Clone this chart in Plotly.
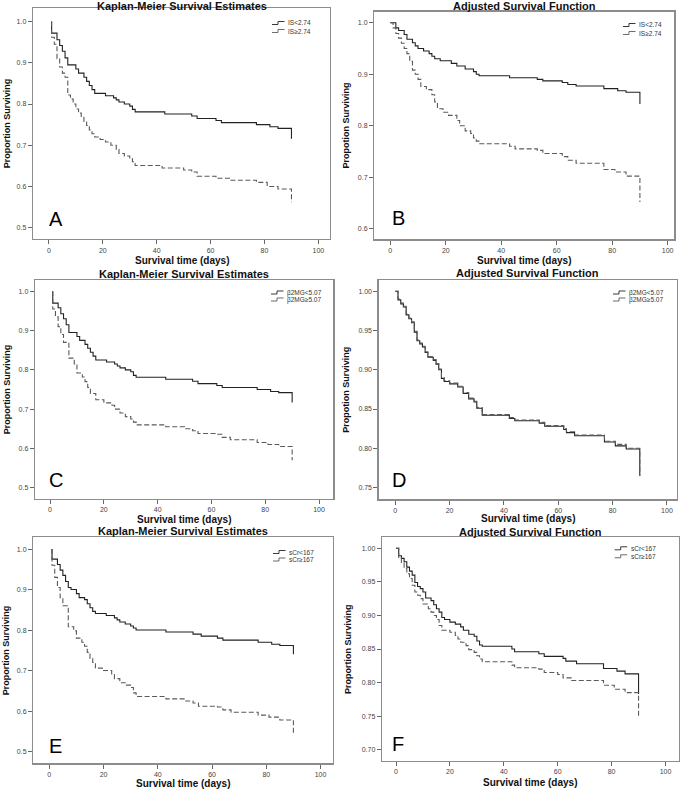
import plotly.graph_objects as go

W, H = 685, 789

# ---------------- data ----------------
# Panel A: IS
a_lo_t = [1, 1, 3, 4, 5, 6, 7, 10, 11, 13, 14, 15, 16, 17, 21, 24, 25, 26, 28, 30, 31, 32, 43, 53, 55, 62, 64, 77, 82, 85, 90]
a_lo_s = [1.0, .972, .956, .942, .928, .912, .895, .885, .875, .865, .855, .845, .835, .826, .82, .815, .81, .805, .80, .795, .787, .781, .776, .771, .765, .76, .755, .75, .745, .741, .716]
a_hi_t = [1, 1, 2, 3, 4, 5, 6, 7, 8, 9, 10, 11, 12, 13, 14, 15, 16, 17, 19, 21, 23, 25, 26, 28, 30, 31, 32, 42, 50, 53, 55, 62, 67, 77, 81, 85, 90]
a_hi_s = [1.0, .962, .945, .91, .89, .875, .865, .822, .812, .80, .788, .778, .768, .758, .748, .737, .728, .72, .714, .708, .70, .69, .68, .674, .668, .66, .651, .645, .64, .635, .625, .62, .615, .61, .60, .594, .562]

# Panel B: IS adjusted
b_lo_t = [0, 2, 3, 5, 6, 8, 9, 10, 12, 14, 15, 16, 18, 22, 24, 27, 30, 31, 32, 43, 53, 55, 62, 64, 67, 77, 82, 85, 90]
b_lo_s = [1.0, .99, .985, .977, .968, .961, .955, .95, .945, .94, .935, .93, .926, .921, .916, .91, .905, .90, .897, .893, .89, .887, .884, .88, .877, .872, .868, .865, .842]
b_hi_t = [0, 1, 2, 3, 4, 5, 6, 7, 8, 9, 10, 11, 13, 15, 16, 17, 19, 21, 24, 25, 27, 29, 30, 31, 32, 43, 45, 53, 55, 62, 64, 67, 77, 81, 85, 90]
b_hi_s = [1.0, .99, .979, .97, .96, .95, .94, .925, .908, .90, .89, .876, .87, .86, .846, .833, .826, .82, .81, .80, .79, .785, .776, .77, .765, .76, .755, .752, .746, .74, .733, .727, .715, .71, .702, .652]

# Panel C: beta2MG
c_lo_t = [1, 1, 3, 4, 5, 6, 7, 10, 11, 13, 14, 15, 16, 17, 21, 24, 25, 26, 28, 30, 31, 32, 43, 53, 55, 62, 64, 77, 82, 85, 90]
c_lo_s = [1.0, .97, .958, .943, .93, .915, .895, .885, .875, .865, .855, .845, .835, .825, .82, .815, .81, .805, .80, .795, .786, .781, .776, .771, .765, .76, .755, .75, .745, .742, .717]
c_hi_t = [1, 1, 2, 3, 4, 5, 7, 9, 10, 12, 13, 14, 15, 17, 20, 23, 24, 26, 28, 30, 31, 32, 43, 50, 53, 55, 62, 64, 67, 77, 81, 85, 90]
c_hi_s = [1.0, .955, .935, .91, .89, .87, .83, .815, .792, .782, .77, .755, .74, .724, .716, .71, .70, .69, .681, .675, .667, .66, .655, .65, .645, .638, .636, .628, .622, .615, .61, .605, .57]

# Panel D: beta2MG adjusted
d_lo_t = [0, 1, 2, 3, 4, 5, 6, 7, 8, 9, 10, 11, 12, 14, 15, 16, 17, 18, 20, 23, 25, 27, 29, 30, 32, 42, 44, 53, 55, 62, 63, 66, 77, 81, 85, 90]
d_lo_s = [1.0, .989, .984, .98, .97, .965, .96, .948, .937, .933, .929, .922, .916, .912, .907, .90, .889, .885, .882, .878, .87, .863, .859, .851, .842, .838, .835, .832, .828, .824, .82, .816, .808, .803, .799, .765]
d_hi_t = [0, 1, 2, 3, 4, 5, 6, 7, 8, 9, 10, 11, 12, 14, 15, 16, 17, 18, 20, 23, 25, 27, 29, 30, 32, 42, 44, 53, 55, 62, 63, 66, 77, 81, 85, 90]
d_hi_s = [1.0, .99, .985, .981, .971, .966, .961, .949, .938, .934, .93, .923, .917, .913, .908, .901, .89, .886, .883, .879, .871, .864, .86, .852, .843, .839, .836, .833, .829, .825, .821, .817, .809, .805, .80, .765]

# Panel E: sCr
e_lo_t = [1, 1, 3, 4, 5, 6, 7, 8, 10, 11, 13, 14, 15, 16, 17, 21, 24, 25, 26, 28, 30, 31, 32, 43, 53, 56, 62, 64, 77, 82, 85, 90]
e_lo_s = [1.0, .975, .962, .948, .935, .92, .905, .90, .89, .88, .875, .865, .855, .846, .841, .836, .83, .825, .82, .815, .81, .805, .80, .795, .79, .785, .78, .775, .77, .765, .762, .74]
e_hi_t = [1, 1, 2, 3, 4, 5, 7, 9, 10, 12, 13, 14, 15, 16, 17, 20, 23, 24, 26, 28, 30, 31, 32, 43, 50, 53, 55, 62, 64, 67, 77, 81, 85, 90]
e_hi_s = [1.0, .96, .93, .905, .88, .86, .808, .798, .78, .77, .76, .745, .73, .72, .706, .70, .69, .68, .67, .664, .658, .645, .636, .63, .625, .62, .612, .61, .603, .597, .59, .585, .578, .54]

# Panel F: sCr adjusted
f_lo_t = [0, 1, 2, 3, 4, 5, 6, 7, 8, 9, 10, 11, 13, 14, 15, 16, 17, 18, 20, 22, 24, 25, 27, 29, 30, 31, 32, 43, 44, 53, 55, 62, 63, 67, 77, 82, 85, 90]
f_lo_s = [1.0, .989, .985, .98, .972, .966, .96, .949, .943, .94, .935, .926, .922, .916, .91, .905, .897, .894, .89, .887, .883, .878, .872, .869, .862, .856, .854, .85, .846, .843, .839, .836, .832, .828, .821, .817, .813, .783]
f_hi_t = [0, 1, 2, 3, 4, 5, 6, 7, 8, 9, 10, 12, 13, 14, 15, 16, 17, 20, 22, 23, 24, 26, 27, 29, 30, 31, 32, 43, 44, 53, 55, 60, 62, 65, 77, 81, 85, 90]
f_hi_s = [1.0, .985, .978, .97, .962, .955, .945, .935, .93, .925, .917, .91, .905, .90, .894, .885, .878, .875, .87, .865, .86, .855, .849, .845, .84, .835, .831, .826, .822, .82, .815, .812, .807, .803, .796, .79, .785, .75]

x_ticks = [0, 20, 40, 60, 80, 100]
y_ticks_km = [0.5, 0.6, 0.7, 0.8, 0.9, 1.0]
y_ticks_b = [0.6, 0.7, 0.8, 0.9, 1.0]
y_ticks_d = [0.75, 0.80, 0.85, 0.90, 0.95, 1.00]
y_ticks_f = [0.70, 0.75, 0.80, 0.85, 0.90, 0.95, 1.00]

km_title = "Kaplan-Meier Survival Estimates"
adj_title = "Adjusted Survival Function"
x_title = "Survival time (days)"

panels = [
    dict(curves=(a_lo_t, a_lo_s, a_hi_t, a_hi_s), labels=("IS<2.74", "IS≥2.74"), letter="A",
         title=km_title, ytitle="Proportion Surviving", yticks=y_ticks_km, fmt=".1f",
         frame=(33, 8, 330, 239), xr=(-5.9, 104.3), yr=(0.4726, 1.033),
         ty=5.5, xty=260.5, ytx=6.7, leg=(286, 23, 31), lpos=(0.046, 0.087)),
    dict(curves=(b_lo_t, b_lo_s, b_hi_t, b_hi_s), labels=("IS<2.74", "IS≥2.74"), letter="B",
         title=adj_title, ytitle="Propotion Surviving", yticks=y_ticks_b, fmt=".1f",
         frame=(374.3, 11.7, 674.3, 239.3), xr=(-5.77, 102.4), yr=(0.5794, 1.0214),
         ty=5.5, xty=260, ytx=345, leg=(637, 25, 33), lpos=(0.052, 0.094)),
    dict(curves=(c_lo_t, c_lo_s, c_hi_t, c_hi_s), labels=("β2MG<5.07", "β2MG≥5.07"), letter="C",
         title=km_title, ytitle="Proportion Surviving", yticks=y_ticks_km, fmt=".1f",
         frame=(35, 280.3, 333.3, 498.7), xr=(-5.6, 105.3), yr=(0.472, 1.028),
         ty=273.7, xty=519, ytx=6.7, leg=(285, 292.5, 299.5), lpos=(0.039, 0.084)),
    dict(curves=(d_lo_t, d_lo_s, d_hi_t, d_hi_s), labels=("β2MG<5.07", "β2MG≥5.07"), letter="D",
         title=adj_title, ytitle="Propotion Surviving", yticks=y_ticks_d, fmt=".2f",
         frame=(378.7, 280.3, 677, 499.3), xr=(-6.1, 103.7), yr=(0.735, 1.014),
         ty=272.7, xty=518.5, ytx=346, leg=(627, 292.5, 299.5), lpos=(0.039, 0.087)),
    dict(curves=(e_lo_t, e_lo_s, e_hi_t, e_hi_s), labels=("sCr<167", "sCr≥167"), letter="E",
         title=km_title, ytitle="Proportion Surviving", yticks=y_ticks_km, fmt=".1f",
         frame=(33.3, 537.3, 333, 763.3), xr=(-5.9, 104.6), yr=(0.471, 1.029),
         ty=531.3, xty=783.5, ytx=6, leg=(287, 552, 559.5), lpos=(0.045, 0.078)),
    dict(curves=(f_lo_t, f_lo_s, f_hi_t, f_hi_s), labels=("sCr<167", "sCr≥167"), letter="F",
         title=adj_title, ytitle="Proportion Surviving", yticks=y_ticks_f, fmt=".2f",
         frame=(382, 537.3, 678.7, 760.7), xr=(-5.2, 104.9), yr=(0.6836, 1.0164),
         ty=531.8, xty=782, ytx=348, leg=(628.7, 548.3, 556.3), lpos=(0.028, 0.075)),
]

SOLID = "#222222"
DASHED = "#5a5a5a"
FRAME = "#8c8c8c"
FONT = "Liberation Sans, Arial, sans-serif"

fig = go.Figure()
layout = dict(width=W, height=H, margin=dict(l=0, r=0, t=0, b=0),
              paper_bgcolor="white", plot_bgcolor="white", showlegend=False,
              font=dict(family=FONT))
annotations = []
shapes = []

def px(x):
    return x / W

def py(y):
    return 1 - y / H

for i, p in enumerate(panels):
    n = "" if i == 0 else str(i + 1)
    xa, ya = "x" + n, "y" + n
    l, t, r, b = p["frame"]
    lo_t, lo_s, hi_t, hi_s = p["curves"]
    fig.add_trace(go.Scatter(x=lo_t, y=lo_s, mode="lines", xaxis=xa, yaxis=ya,
                             line=dict(shape="hv", color=SOLID, width=1.1),
                             name=p["labels"][0], hoverinfo="skip"))
    fig.add_trace(go.Scatter(x=hi_t, y=hi_s, mode="lines", xaxis=xa, yaxis=ya,
                             line=dict(shape="hv", color=DASHED, width=1.1, dash="5px,2.5px"),
                             name=p["labels"][1], hoverinfo="skip"))
    common = dict(showgrid=False, zeroline=False, showline=True, mirror=True,
                  linecolor=FRAME, linewidth=1.3, ticks="outside", ticklen=4,
                  tickwidth=1, tickcolor="#666", tickfont=dict(size=7, color="#444", family=FONT))
    layout["xaxis" + n] = dict(common, domain=[px(l), px(r)], range=list(p["xr"]),
                               tickvals=x_ticks, anchor=ya)
    layout["yaxis" + n] = dict(common, domain=[py(b), py(t)], range=list(p["yr"]),
                               tickvals=p["yticks"], tickformat=p["fmt"], anchor=xa)
    cx = (l + r) / 2
    annotations.append(dict(text="<b>%s</b>" % p["title"], x=px(cx), y=py(p["ty"]), xref="paper", yref="paper",
                            showarrow=False, xanchor="center", yanchor="middle",
                            font=dict(size=11, color="#111", family=FONT)))
    annotations.append(dict(text="<b>%s</b>" % x_title, x=px(cx), y=py(p["xty"]), xref="paper", yref="paper",
                            showarrow=False, xanchor="center", yanchor="middle",
                            font=dict(size=10, color="#111", family=FONT)))
    annotations.append(dict(text="<b>%s</b>" % p["ytitle"], x=px(p["ytx"]), y=py((t + b) / 2), xref="paper", yref="paper",
                            showarrow=False, xanchor="center", yanchor="middle", textangle=-90,
                            font=dict(size=9, color="#111", family=FONT)))
    lxp, lyp = p["lpos"]
    annotations.append(dict(text=p["letter"], x=lxp, y=lyp, xref=xa + " domain", yref=ya + " domain",
                            showarrow=False, xanchor="left", yanchor="middle",
                            font=dict(size=20, color="black", family=FONT)))
    lx, r1, r2 = p["leg"]
    for k, ry in enumerate((r1, r2)):
        annotations.append(dict(text=p["labels"][k], x=px(lx), y=py(ry), xref="paper", yref="paper",
                                showarrow=False, xanchor="left", yanchor="middle",
                                font=dict(size=6.5, color="#333", family=FONT)))
        g0 = lx - 14
        path = "M %f,%f H %f V %f H %f" % (px(g0), py(ry + 1.5), px(g0 + 6), py(ry - 1.5), px(g0 + 12.5))
        shapes.append(dict(type="path", path=path, xref="paper", yref="paper",
                           line=dict(color=SOLID if k == 0 else DASHED, width=0.9)))

layout["annotations"] = annotations
layout["shapes"] = shapes
fig.update_layout(**layout)
fig.write_html("out.html", config={"displayModeBar": False, "staticPlot": True},
               post_script="document.body.style.margin='0';document.body.style.padding='0';document.body.style.overflow='hidden';")
